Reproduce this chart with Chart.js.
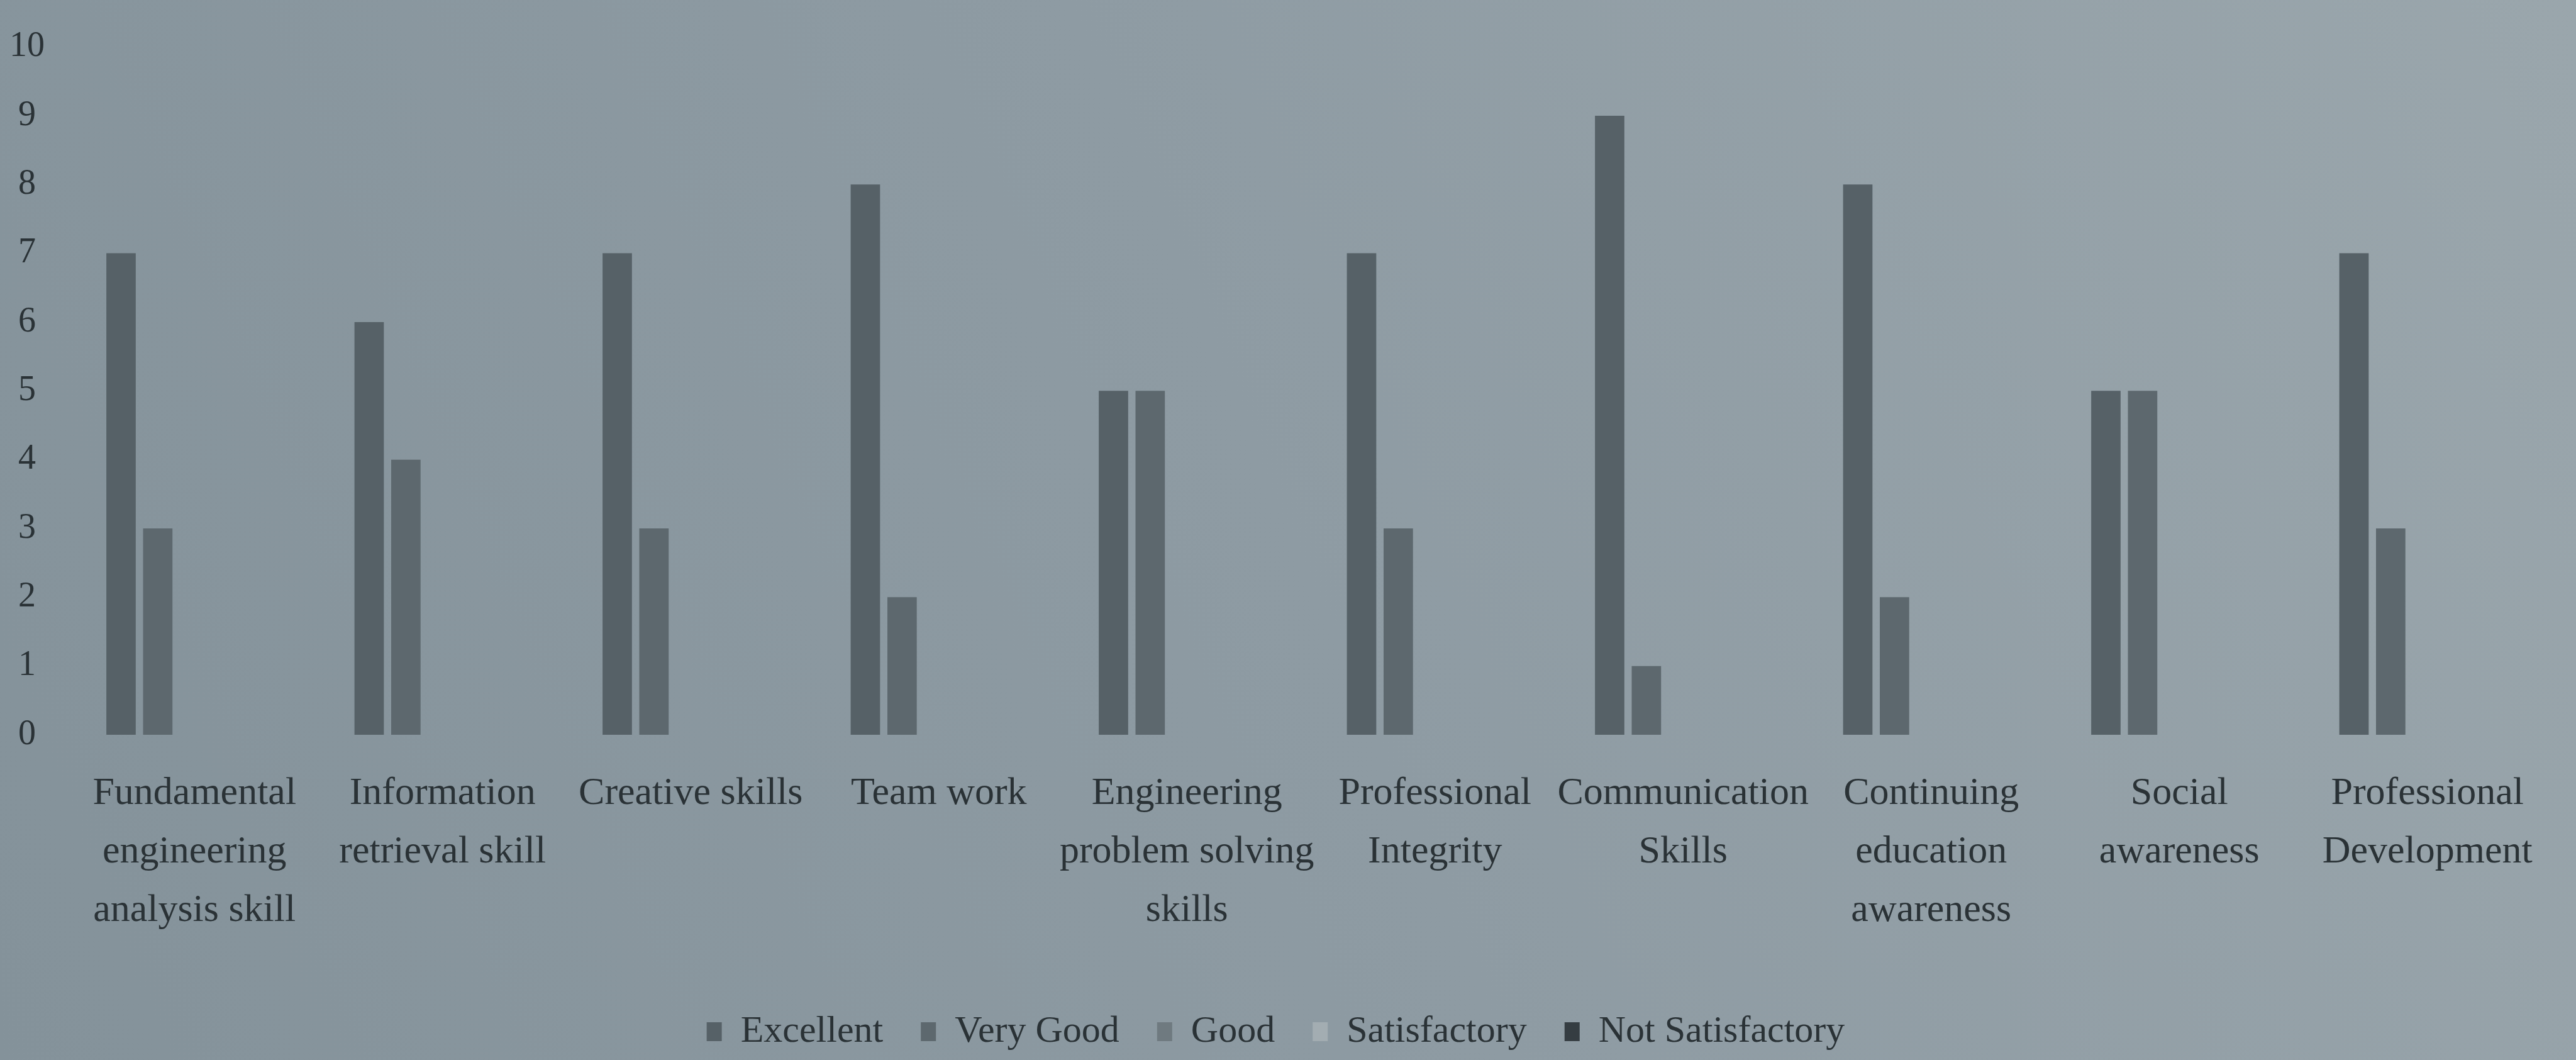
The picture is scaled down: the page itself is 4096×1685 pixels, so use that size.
<!DOCTYPE html>
<html>
<head>
<meta charset="utf-8">
<script src="https://cdn.jsdelivr.net/npm/chart.js@4.4.1/dist/chart.umd.min.js"></script>
<style>
  html, body { margin: 0; padding: 0; background: #8e9ba3; }
  #wrap { width: 4096px; height: 1685px; }
</style>
</head>
<body>
<div id="wrap"><canvas id="skills-chart"></canvas></div>
<script>
const categories = [
  ["Fundamental", "engineering", "analysis skill"],
  ["Information", "retrieval skill"],
  ["Creative skills"],
  ["Team work"],
  ["Engineering", "problem solving", "skills"],
  ["Professional", "Integrity"],
  ["Communication", "Skills"],
  ["Continuing", "education", "awareness"],
  ["Social", "awareness"],
  ["Professional", "Development"],
];
const seriesNames = ["Excellent", "Very Good", "Good", "Satisfactory", "Not Satisfactory"];
const excellent = [7, 6, 7, 8, 5, 7, 9, 8, 5, 7];
const veryGood = [3, 4, 3, 2, 5, 3, 1, 2, 5, 3];
const good = [0, 0, 0, 0, 0, 0, 0, 0, 0, 0];
const satisfactory = [0, 0, 0, 0, 0, 0, 0, 0, 0, 0];
const notSatisfactory = [0, 0, 0, 0, 0, 0, 0, 0, 0, 0];
const yMin = 0;
const yMax = 10;
const yStep = 1;

const seriesColors = ["#566167", "#5d686e", "#6f7a80", "#a3adb2", "#353d42"];
const textColor = "#2a3236";
const serif = "'Liberation Serif', 'DejaVu Serif', serif";

// the photo behind the print: a faint grey-blue wash
const paper = {
  id: "paper",
  beforeDraw(chart) {
    const { ctx, width, height } = chart;
    const g = ctx.createLinearGradient(0, height, width, 0);
    g.addColorStop(0, "#84929a");
    g.addColorStop(0.5, "#8e9ba3");
    g.addColorStop(1, "#9aa6ac");
    ctx.save();
    ctx.fillStyle = g;
    ctx.fillRect(0, 0, width, height);
    ctx.restore();
  },
};

const values = [excellent, veryGood, good, satisfactory, notSatisfactory];

new Chart(document.getElementById("skills-chart"), {
  type: "bar",
  data: {
    labels: categories,
    datasets: seriesNames.map((name, i) => ({
      label: name,
      data: values[i],
      backgroundColor: seriesColors[i],
      borderWidth: 0,
      categoryPercentage: 0.74,
      barPercentage: 0.8,
    })),
  },
  options: {
    responsive: true,
    maintainAspectRatio: false,
    animation: false,
    layout: {
      padding: { top: 52, right: 39, bottom: 5, left: 0 },
    },
    scales: {
      x: {
        grid: { display: false, drawTicks: false },
        border: { display: false },
        ticks: {
          color: textColor,
          font: { family: serif, size: 62, lineHeight: 1.5 },
          padding: 47,
          maxRotation: 0,
          minRotation: 0,
          autoSkip: false,
        },
        afterFit: (s) => { s.height = 382; },
      },
      y: {
        min: yMin,
        max: yMax,
        grid: { display: false, drawTicks: false },
        border: { display: false },
        ticks: {
          stepSize: yStep,
          color: textColor,
          font: { family: serif, size: 56 },
          padding: 41,
          crossAlign: "center",
        },
        afterFit: (s) => { s.width = 112; },
      },
    },
    plugins: {
      legend: {
        position: "bottom",
        labels: {
          color: textColor,
          font: { family: serif, size: 60 },
          boxWidth: 24,
          boxHeight: 30,
          padding: 60,
        },
      },
      tooltip: { enabled: false },
      title: { display: false },
    },
  },
  plugins: [paper],
});
</script>
</body>
</html>
